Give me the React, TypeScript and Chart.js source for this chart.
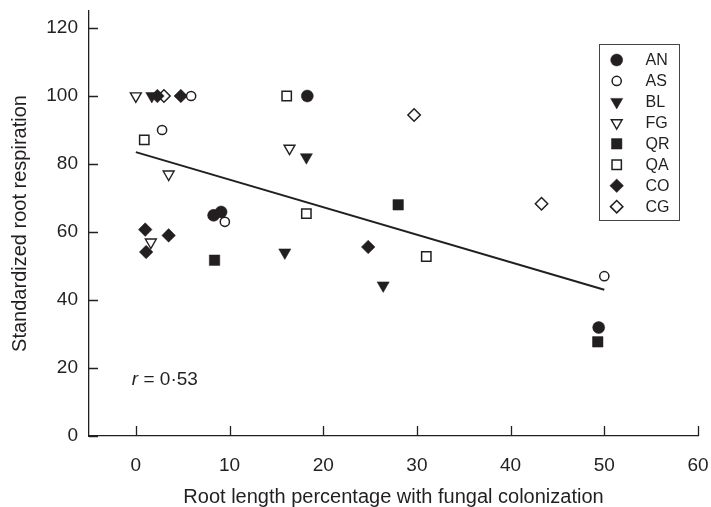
import React, { useEffect, useRef } from 'react';
import { Chart, registerables } from 'chart.js';
import { drawPoint } from 'chart.js/helpers';

Chart.register(...registerables);

// ---- Data ----
const seriesNames = ['AN', 'AS', 'BL', 'FG', 'QR', 'QA', 'CO', 'CG'];

const anX = [18.3, 8.3, 9.1, 49.4];
const anY = [100, 64.9, 65.9, 31.9];
const asX = [5.9, 2.8, 9.5, 50.0];
const asY = [100, 90.0, 63.0, 47.0];
const blX = [1.7, 18.2, 15.9, 26.4];
const blY = [100, 82.0, 54.0, 44.3];
const fgX = [0, 16.4, 3.5, 1.6];
const fgY = [100, 84.6, 77.0, 57.0];
const qrX = [8.4, 28.0, 49.3];
const qrY = [51.7, 68.0, 27.7];
const qaX = [0.9, 16.1, 18.2, 31.0];
const qaY = [87.1, 100, 65.4, 52.8];
const coX = [2.3, 4.8, 1.0, 3.5, 1.1, 24.8];
const coY = [100, 100, 60.7, 59.0, 54.1, 55.6];
const cgX = [3.0, 29.7, 43.3];
const cgY = [100, 94.4, 68.3];

const fitX = [0, 50];
const fitY = [83.5, 43.0];

const xTickValues = [0, 10, 20, 30, 40, 50, 60];
const yTickValues = [0, 20, 40, 60, 80, 100, 120];

const xTitle = 'Root length percentage with fungal colonization';
const yTitle = 'Standardized root respiration';

const INK = '#231f20';
const FONT = '"Liberation Sans", Arial, Helvetica, sans-serif';

const pts = (xs: number[], ys: number[]) => xs.map((x, i) => ({ x, y: ys[i] }));

type Style = { pointStyle: string; rotation: number; radius: number; filled: boolean; borderWidth: number };
const styles: Style[] = [
  { pointStyle: 'circle', rotation: 0, radius: 6, filled: true, borderWidth: 0.5 },
  { pointStyle: 'circle', rotation: 0, radius: 4.6, filled: false, borderWidth: 1.5 },
  { pointStyle: 'triangle', rotation: 180, radius: 7, filled: true, borderWidth: 0.5 },
  { pointStyle: 'triangle', rotation: 180, radius: 6.3, filled: false, borderWidth: 1.4 },
  { pointStyle: 'rect', rotation: 0, radius: 7.4, filled: true, borderWidth: 0.5 },
  { pointStyle: 'rect', rotation: 0, radius: 6.6, filled: false, borderWidth: 1.5 },
  { pointStyle: 'rectRot', rotation: 0, radius: 6.8, filled: true, borderWidth: 0.5 },
  { pointStyle: 'rectRot', rotation: 0, radius: 6.2, filled: false, borderWidth: 1.5 },
];

const seriesData = [
  pts(anX, anY), pts(asX, asY), pts(blX, blY), pts(fgX, fgY),
  pts(qrX, qrY), pts(qaX, qaY), pts(coX, coY), pts(cgX, cgY),
];

const innerTicks = {
  id: 'innerTicks',
  afterDraw(chart: any) {
    const { ctx, chartArea } = chart;
    const xs = chart.scales.x;
    const ys = chart.scales.y;
    ctx.save();
    ctx.strokeStyle = INK;
    ctx.lineWidth = 1.3;
    ctx.beginPath();
    xTickValues.forEach((v) => {
      const px = Math.round(xs.getPixelForValue(v)) + 0.5;
      ctx.moveTo(px, chartArea.bottom);
      ctx.lineTo(px, chartArea.bottom - 10);
    });
    yTickValues.forEach((v) => {
      const py = Math.round(ys.getPixelForValue(v)) + 0.5;
      ctx.moveTo(chartArea.left, py);
      ctx.lineTo(chartArea.left + 9, py);
    });
    ctx.stroke();

    // r annotation
    ctx.fillStyle = INK;
    ctx.textBaseline = 'middle';
    const tx = xs.getPixelForValue(0) - 4;
    const ty = ys.getPixelForValue(16.5);
    ctx.font = `italic 19px ${FONT}`;
    ctx.fillText('r', tx, ty);
    const rw = ctx.measureText('r').width;
    ctx.font = `19px ${FONT}`;
    ctx.fillText(' = 0\u00b753', tx + rw, ty);

    // legend
    const boxL = chartArea.right - 99;
    const boxT = chartArea.top + 33;
    const boxW = 80;
    const boxH = 176;
    ctx.lineWidth = 1;
    ctx.strokeStyle = '#444';
    ctx.strokeRect(boxL + 0.5, boxT + 0.5, boxW, boxH);
    seriesNames.forEach((name, i) => {
      const st = styles[i];
      const cy = boxT + 16 + i * 20.95;
      const cx = boxL + 17.7;
      ctx.fillStyle = st.filled ? INK : '#ffffff';
      ctx.strokeStyle = INK;
      ctx.lineWidth = st.borderWidth;
      drawPoint(ctx, { pointStyle: st.pointStyle as any, rotation: st.rotation, radius: st.radius, borderWidth: st.borderWidth }, cx, cy);
      ctx.fillStyle = INK;
      ctx.font = `16px ${FONT}`;
      ctx.textBaseline = 'middle';
      ctx.fillText(name, boxL + 46.5, cy + 1);
    });
    ctx.restore();
  },
};

export default function App() {
  const ref = useRef<HTMLCanvasElement | null>(null);

  useEffect(() => {
    if (!ref.current) return;
    Chart.defaults.font.family = FONT;
    Chart.defaults.color = INK;

    const datasets: any[] = seriesNames.map((name, i) => {
      const st = styles[i];
      return {
        type: 'scatter',
        label: name,
        data: seriesData[i],
        pointStyle: st.pointStyle,
        pointRotation: st.rotation,
        pointRadius: st.radius,
        pointHoverRadius: st.radius,
        pointBorderWidth: st.borderWidth,
        borderWidth: st.borderWidth,
        backgroundColor: st.filled ? INK : '#ffffff',
        borderColor: INK,
        showLine: false,
      };
    });
    datasets.push({
      type: 'line',
      label: 'fit',
      data: pts(fitX, fitY),
      borderColor: INK,
      borderWidth: 2,
      pointRadius: 0,
      fill: false,
      order: 10,
    });

    const chart = new Chart(ref.current, {
      type: 'scatter',
      data: { datasets },
      options: {
        responsive: false,
        animation: false,
        events: [],
        layout: { padding: { top: 11, right: 13, left: 0, bottom: 0 } },
        plugins: { legend: { display: false }, tooltip: { enabled: false } },
        scales: {
          x: {
            type: 'linear',
            min: -5,
            max: 60,
            afterBuildTicks: (s: any) => { s.ticks = xTickValues.map((v) => ({ value: v })); },
            afterFit: (s: any) => { s.height = 71; s.paddingLeft = 0; s.paddingRight = 0; },
            grid: { display: true, drawOnChartArea: false, drawTicks: false },
            border: { display: true, color: INK, width: 1.3 },
            ticks: { padding: 18, font: { size: 19 }, color: INK, maxRotation: 0 },
            title: { display: true, text: xTitle, font: { size: 20 }, color: INK, padding: { top: 0, bottom: -2 } },
          },
          y: {
            type: 'linear',
            min: 0,
            max: 125,
            afterBuildTicks: (s: any) => { s.ticks = yTickValues.map((v) => ({ value: v })); },
            afterFit: (s: any) => { s.width = 89; s.paddingTop = 0; s.paddingBottom = 0; },
            grid: { display: true, drawOnChartArea: false, drawTicks: false },
            border: { display: true, color: INK, width: 1.3 },
            ticks: { padding: 11, font: { size: 19 }, color: INK },
            title: { display: true, text: yTitle, font: { size: 20 }, color: INK, padding: { top: 8, bottom: 0 } },
          },
        },
      },
      plugins: [innerTicks],
    } as any);

    return () => chart.destroy();
  }, []);

  return (
    <div style={{ position: 'fixed', left: 0, top: 0, width: 711, height: 507, background: '#fff' }}>
      <canvas ref={ref} width={711} height={507} style={{ width: 711, height: 507, display: 'block' }} />
    </div>
  );
}
